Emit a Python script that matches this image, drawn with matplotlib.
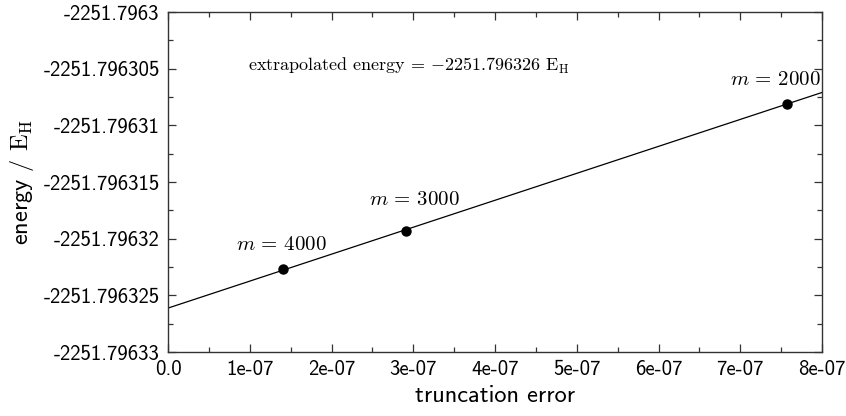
import numpy as np
import matplotlib
matplotlib.use("Agg")
import matplotlib.pyplot as plt
from matplotlib.ticker import AutoMinorLocator, FixedLocator

plt.rcParams['font.family'] = ['cmss10', 'DejaVu Sans']
plt.rcParams['mathtext.fontset'] = 'cm'
plt.rcParams['axes.unicode_minus'] = False

# data
m_labels = ["4000", "3000", "2000"]
trunc_err = [1.41e-07, 2.91e-07, 7.57e-07]
energy = [-2251.7963227, -2251.7963193, -2251.7963081]

y_ticks = [-2251.7963, -2251.796305, -2251.79631, -2251.796315,
           -2251.79632, -2251.796325, -2251.79633]
y_ticklabels = ["-2251.7963", "-2251.796305", "-2251.79631", "-2251.796315",
                "-2251.79632", "-2251.796325", "-2251.79633"]
x_ticks = [0, 1e-7, 2e-7, 3e-7, 4e-7, 5e-7, 6e-7, 7e-7, 8e-7]
x_ticklabels = ["0.0", "1e-07", "2e-07", "3e-07", "4e-07",
                "5e-07", "6e-07", "7e-07", "8e-07"]
extrapolated = "2251.796326"

# linear extrapolation to zero truncation error
slope, intercept = np.polyfit(np.array(trunc_err), np.array(energy) + 2251.7963, 1)
xs = np.array([0, 8e-7])
ys = slope * xs + intercept - 2251.7963

fig = plt.figure(figsize=(8.46, 4.16), dpi=100)
ax = fig.add_axes([168 / 846, 1 - 352 / 416, 654 / 846, 340 / 416])

ax.plot(xs, ys, color='black', lw=0.9)
ax.plot(trunc_err, energy, 'o', color='black', ms=6.5)

# label offsets in points
offsets = [(-1, 11), (6, 16), (-8, 11)]
for lab, x, y, off in zip(m_labels, trunc_err, energy, offsets):
    ax.annotate(r"$m\,=\,%s$" % lab, (x, y), xytext=off, textcoords='offset points',
                ha='center', va='bottom', fontsize=15)

ax.text(0.123, 0.84,
        r"extrapolated energy = $-$%s $\mathrm{E_H}$" % extrapolated,
        transform=ax.transAxes, fontsize=13, va='center', ha='left',
        family='cmr10')

ax.set_xlim(0, 8e-7)
ax.set_ylim(-2251.79633, -2251.7963)
ax.xaxis.set_major_locator(FixedLocator(x_ticks))
ax.set_xticklabels(x_ticklabels)
ax.yaxis.set_major_locator(FixedLocator(y_ticks))
ax.set_yticklabels(y_ticklabels)
ax.xaxis.set_minor_locator(AutoMinorLocator(2))
ax.yaxis.set_minor_locator(AutoMinorLocator(2))

ax.tick_params(which='both', direction='in', top=True, right=True,
               labelsize=15, color='#333333', width=0.9)
ax.tick_params(which='major', length=6, pad=6)
ax.tick_params(which='minor', length=3.5)
for s in ax.spines.values():
    s.set_color('#333333')
    s.set_linewidth(1.0)

ax.set_xlabel("truncation error", fontsize=17.5, labelpad=4)
ax.set_ylabel(r"energy / $\mathrm{E_H}$", fontsize=17.5, labelpad=5)

fig.savefig("out.png", dpi=100)
